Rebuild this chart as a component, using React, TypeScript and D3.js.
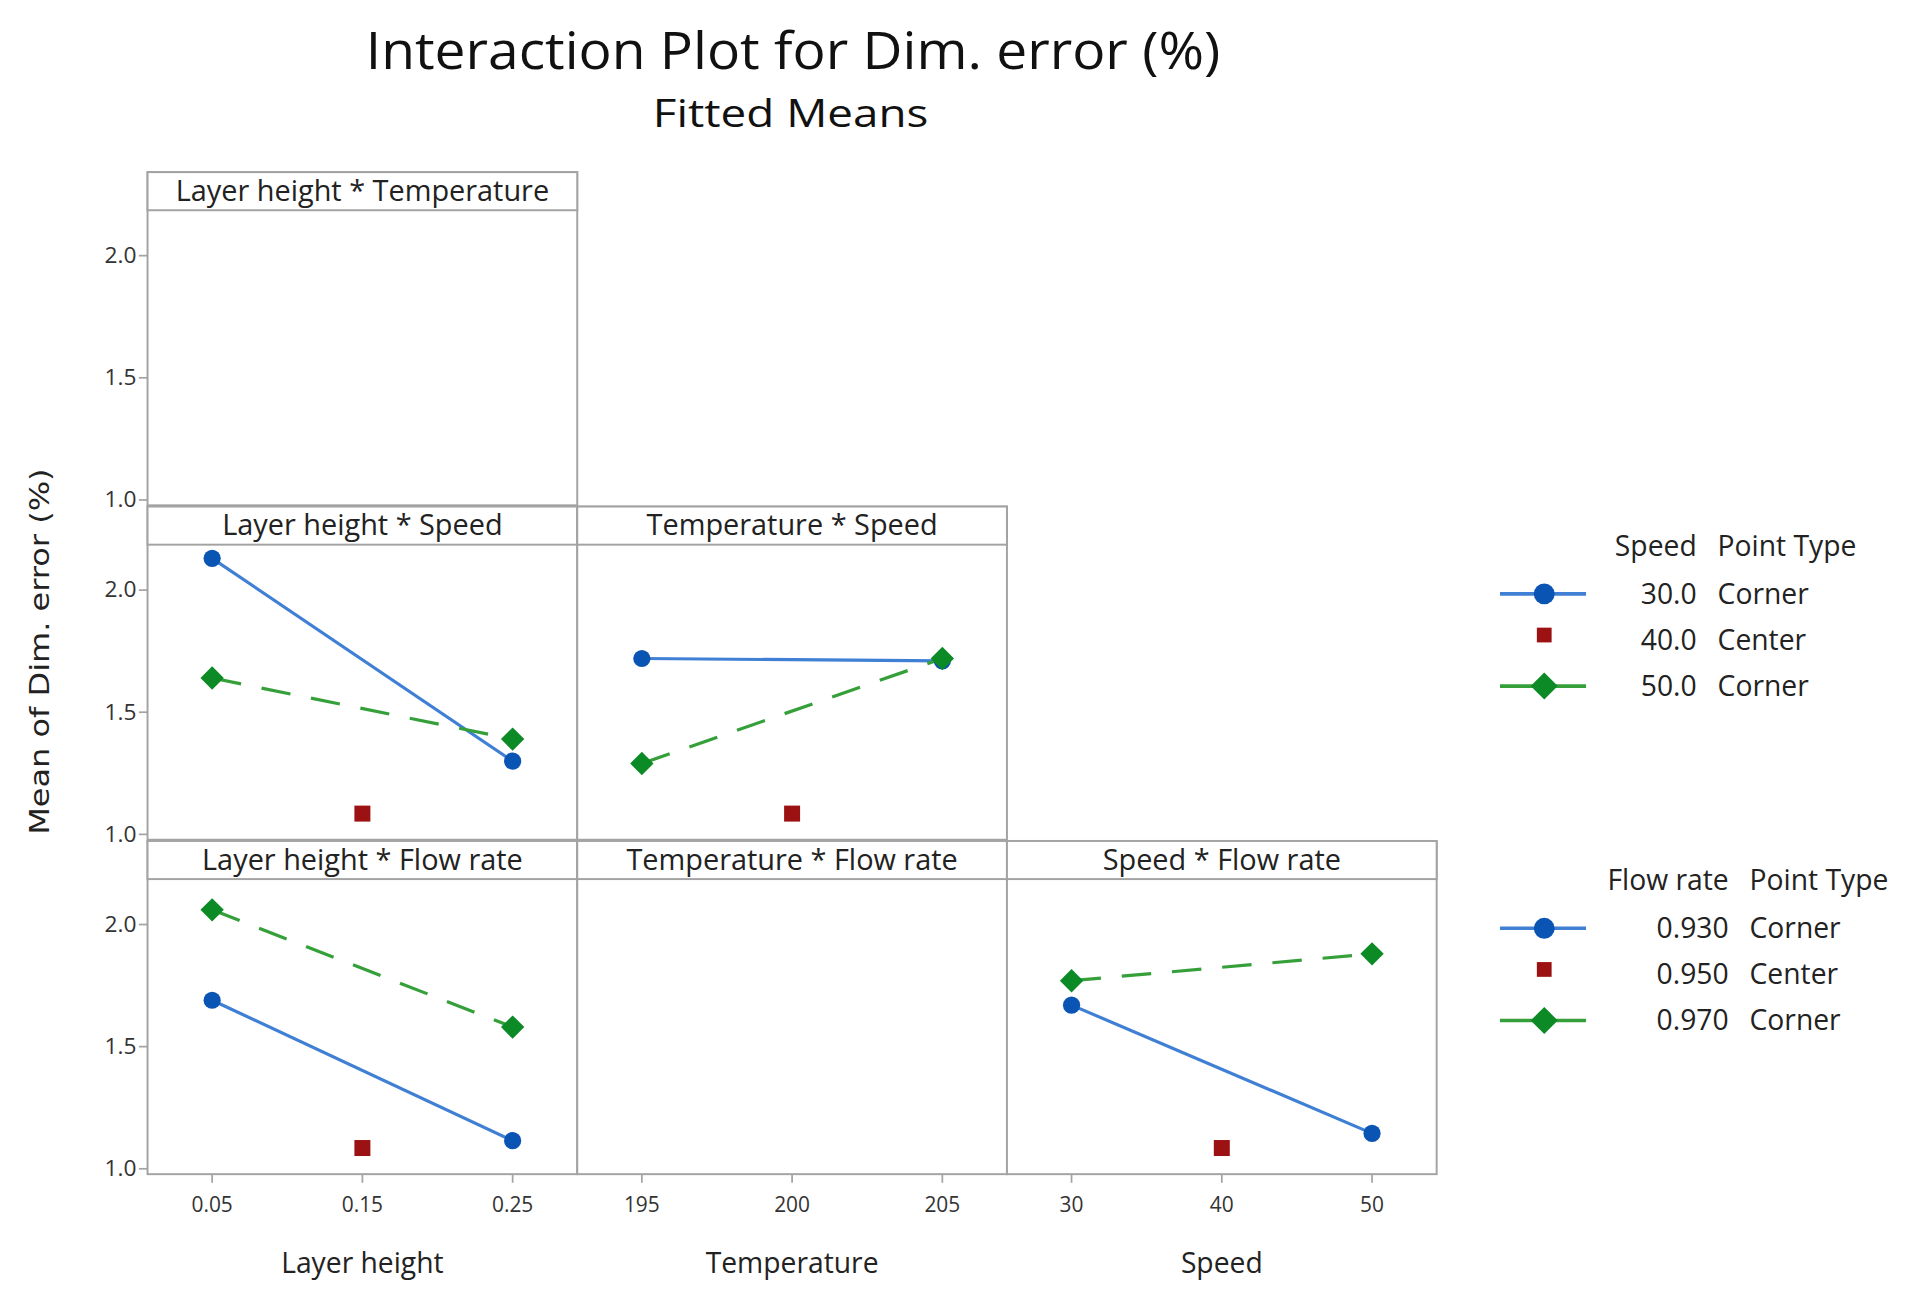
import React from 'react';
import * as d3 from 'd3';

// chart values
const lhLevels = [0.05, 0.25];
const tempLevels = [195, 205];
const speedLevels = [30, 50];
const lhCenter = 0.15;
const tempCenter = 200;
const speedCenter = 40;

const lhTicks = [0.05, 0.15, 0.25];
const tempTicks = [195, 200, 205];
const speedTicks = [30, 40, 50];
const yTicks = [1.0, 1.5, 2.0];

const lhSpeed30 = [2.13, 1.30];
const lhSpeed50 = [1.64, 1.39];
const tempSpeed30 = [1.72, 1.71];
const tempSpeed50 = [1.29, 1.72];
const lhFlow093 = [1.69, 1.115];
const lhFlow097 = [2.06, 1.58];
const speedFlow093 = [1.67, 1.145];
const speedFlow097 = [1.77, 1.88];
const centerPoint = 1.085;

const speedLegend = ['30.0', '40.0', '50.0'];
const flowLegend = ['0.930', '0.950', '0.970'];
const pointTypes = ['Corner', 'Center', 'Corner'];

const FONT = "'Open Sans', sans-serif";
const GRID = '#a3a3a3';
const BLUE_LINE = '#3f7fd4';
const BLUE_PT = '#0a55b4';
const GREEN_LINE = '#35a03a';
const GREEN_PT = '#0b8a25';
const RED_PT = '#9c1111';

const colEdges = [120, 469.5, 819, 1168.5];
const rowTops = [140, 412, 684];
const stripH = 31;
const rowH = 271;
const PAD = 0.215;

function padded(levels: number[]) {
  const span = levels[1] - levels[0];
  return [levels[0] - span * PAD, levels[1] + span * PAD];
}

const xScales = [
  d3.scaleLinear().domain(padded(lhLevels)).range([colEdges[0], colEdges[1]]),
  d3.scaleLinear().domain(padded(tempLevels)).range([colEdges[1], colEdges[2]]),
  d3.scaleLinear().domain(padded(speedLevels)).range([colEdges[2], colEdges[3]]),
];
const xLevels = [lhLevels, tempLevels, speedLevels];
const xCenters = [lhCenter, tempCenter, speedCenter];
const xTickSets = [lhTicks, tempTicks, speedTicks];
const xTickFmt = [(v: number) => d3.format('.2f')(v), (v: number) => String(v), (v: number) => String(v)];
const xTitles = ['Layer height', 'Temperature', 'Speed'];

const yScale = (row: number) =>
  d3.scaleLinear().domain([0.978, 2.186]).range([rowTops[row] + rowH, rowTops[row] + stripH]);

type Panel = { row: number; col: number; title: string; lo?: number[]; hi?: number[] };
const panels: Panel[] = [
  { row: 0, col: 0, title: 'Layer height * Temperature' },
  { row: 1, col: 0, title: 'Layer height * Speed', lo: lhSpeed30, hi: lhSpeed50 },
  { row: 1, col: 1, title: 'Temperature * Speed', lo: tempSpeed30, hi: tempSpeed50 },
  { row: 2, col: 0, title: 'Layer height * Flow rate', lo: lhFlow093, hi: lhFlow097 },
  { row: 2, col: 1, title: 'Temperature * Flow rate' },
  { row: 2, col: 2, title: 'Speed * Flow rate', lo: speedFlow093, hi: speedFlow097 },
];

const diamond = (cx: number, cy: number, r: number) =>
  `M${cx},${cy - r}L${cx + r},${cy}L${cx},${cy + r}L${cx - r},${cy}Z`;

function PanelView({ p }: { p: Panel }) {
  const x = xScales[p.col];
  const y = yScale(p.row);
  const x0 = colEdges[p.col];
  const x1 = colEdges[p.col + 1];
  const top = rowTops[p.row];
  const line = d3.line<number>().x((_, i) => x(xLevels[p.col][i])).y((d) => y(d));
  return (
    <g>
      <rect x={x0} y={top} width={x1 - x0} height={rowH} fill="#fff" stroke={GRID} strokeWidth={1.6} />
      <rect x={x0} y={top} width={x1 - x0} height={stripH} fill="#fff" stroke={GRID} strokeWidth={1.6} />
      <text x={(x0 + x1) / 2} y={top + stripH / 2 + 8} textAnchor="middle" fontSize={23.5} fill="#222" fontFamily={FONT}>
        {p.title}
      </text>
      {p.lo && p.hi && (
        <g>
          <path d={line(p.lo) || ''} fill="none" stroke={BLUE_LINE} strokeWidth={2.6} />
          <path d={line(p.hi) || ''} fill="none" stroke={GREEN_LINE} strokeWidth={2.6} strokeDasharray="24 17" />
          {p.lo.map((v, i) => (
            <circle key={'b' + i} cx={x(xLevels[p.col][i])} cy={y(v)} r={7} fill={BLUE_PT} />
          ))}
          {p.hi.map((v, i) => (
            <path key={'g' + i} d={diamond(x(xLevels[p.col][i]), y(v), 9.5)} fill={GREEN_PT} />
          ))}
          <rect x={x(xCenters[p.col]) - 6.5} y={y(centerPoint) - 6.5} width={13} height={13} fill={RED_PT} />
        </g>
      )}
    </g>
  );
}

function Legend({ top, header, values, valueRight }: { top: number; header: string; values: string[]; valueRight: number }) {
  const rowGap = 37.5;
  const rows = values.map((v, i) => top + 39 + i * rowGap);
  const typeX = valueRight + 17;
  return (
    <g fontFamily={FONT} fontSize={23} fill="#222">
      <text x={valueRight} y={top + 8} textAnchor="end">{header}</text>
      <text x={typeX} y={top + 8}>Point Type</text>
      {rows.map((cy, i) => (
        <g key={i}>
          {i !== 1 && (
            <line x1={1220} x2={1290} y1={cy} y2={cy} stroke={i === 0 ? BLUE_LINE : GREEN_LINE} strokeWidth={3} />
          )}
          {i === 0 && <circle cx={1256} cy={cy} r={8.5} fill={BLUE_PT} />}
          {i === 1 && <rect x={1250} y={cy - 10} width={12} height={12} fill={RED_PT} />}
          {i === 2 && <path d={diamond(1256, cy, 11)} fill={GREEN_PT} />}
          <text x={valueRight} y={cy + 8} textAnchor="end">{values[i]}</text>
          <text x={typeX} y={cy + 8}>{pointTypes[i]}</text>
        </g>
      ))}
    </g>
  );
}

export default function App() {
  const bottom = rowTops[2] + rowH;
  return (
    <svg
      width={1918}
      height={1289}
      viewBox="0 0 1560 1048.4"
      style={{ position: 'absolute', left: 0, top: 0, background: '#fff' }}
    >
      <rect x={0} y={0} width={1560} height={1048.4} fill="#fff" />
      <text x={645} y={56} textAnchor="middle" fontSize={41} fontWeight={500} fontFamily={FONT} fill="#111" textLength={695} lengthAdjust="spacingAndGlyphs">
        Interaction Plot for Dim. error (%)
      </text>
      <text x={643} y={103} textAnchor="middle" fontSize={31} fontWeight={500} fontFamily={FONT} fill="#111" textLength={224} lengthAdjust="spacingAndGlyphs">
        Fitted Means
      </text>

      {panels.map((p, i) => (
        <PanelView key={i} p={p} />
      ))}

      {/* y axis ticks on each row */}
      {rowTops.map((_, r) => {
        const y = yScale(r);
        return (
          <g key={r} fontFamily={FONT} fontSize={17} fill="#333">
            {yTicks.map((t) => (
              <g key={t}>
                <line x1={113} x2={120} y1={y(t)} y2={y(t)} stroke={GRID} strokeWidth={1.4} />
                <text x={111} y={y(t) + 6} textAnchor="end" textLength={26} lengthAdjust="spacingAndGlyphs">
                  {d3.format('.1f')(t)}
                </text>
              </g>
            ))}
          </g>
        );
      })}

      {/* x axis ticks under the bottom row */}
      {xScales.map((x, c) => (
        <g key={c} fontFamily={FONT} fontSize={17} fill="#333">
          {xTickSets[c].map((t) => (
            <g key={t}>
              <line x1={x(t)} x2={x(t)} y1={bottom} y2={bottom + 7} stroke={GRID} strokeWidth={1.4} />
              <text x={x(t)} y={bottom + 31} textAnchor="middle">
                {xTickFmt[c](t)}
              </text>
            </g>
          ))}
          <text x={(colEdges[c] + colEdges[c + 1]) / 2} y={bottom + 80} textAnchor="middle" fontSize={23} fill="#222">
            {xTitles[c]}
          </text>
        </g>
      ))}

      <text
        transform="translate(40,530) rotate(-90)"
        textAnchor="middle"
        fontSize={22}
        fontFamily="'DejaVu Sans', Verdana, sans-serif"
        fill="#222"
        textLength={298}
        lengthAdjust="spacingAndGlyphs"
      >
        Mean of Dim. error (%)
      </text>

      <Legend top={444} header="Speed" values={speedLegend} valueRight={1380} />
      <Legend top={716} header="Flow rate" values={flowLegend} valueRight={1406} />
    </svg>
  );
}
